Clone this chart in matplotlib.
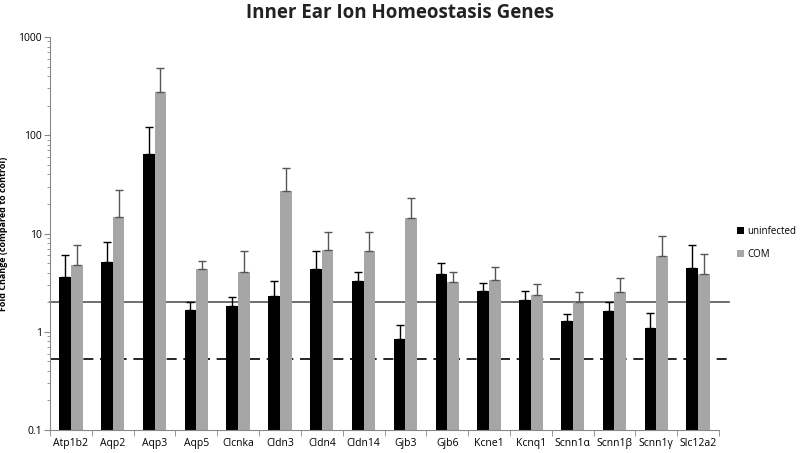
import matplotlib
matplotlib.use("Agg")
import matplotlib.pyplot as plt
import numpy as np
from matplotlib.ticker import LogLocator, NullFormatter, FixedLocator

plt.rcParams['font.family'] = ['Open Sans', 'DejaVu Sans']

genes = ["Atp1b2", "Aqp2", "Aqp3", "Aqp5", "Clcnka", "Cldn3", "Cldn4", "Cldn14", "Gjb3",
         "Gjb6", "Kcne1", "Kcnq1", "Scnn1α", "Scnn1β", "Scnn1γ", "Slc12a2"]
uninfected = [3.6, 5.1, 65, 1.66, 1.83, 2.29, 4.32, 3.26, 0.84, 3.88, 2.58, 2.12, 1.29, 1.64, 1.08, 4.42]
uninfected_err_top = [6.0, 8.1, 120, 2.02, 2.24, 3.3, 6.7, 4.06, 1.18, 4.98, 3.16, 2.58, 1.51, 2.02, 1.57, 7.55]
com = [4.8, 14.7, 277, 4.32, 4.06, 27, 6.87, 6.7, 14.3, 3.21, 3.34, 2.39, 2.01, 2.54, 5.87, 3.88]
com_err_top = [7.6, 27.5, 483, 5.2, 6.7, 46, 10.3, 10.3, 22.8, 4.09, 4.53, 3.04, 2.54, 3.56, 9.4, 6.15]
upper_threshold = 2.0
lower_threshold = 0.53

fig = plt.figure(figsize=(8, 4.53), dpi=100)
ax = fig.add_axes([50/800, (453-430)/453, 669/800, (430-37)/453])

n = len(genes)
x = np.arange(n)
w = 0.28
u = np.array(uninfected); c = np.array(com)
ue = np.array(uninfected_err_top) - u
ce = np.array(com_err_top) - c

ax.bar(x - w/2, u, w, color='black', label='uninfected', zorder=2)
ax.bar(x + w/2, c, w, color='#a6a6a6', label='COM', zorder=2)
ax.errorbar(x - w/2, u, yerr=[np.zeros(n), ue], fmt='none', ecolor='black', elinewidth=1, capsize=3, capthick=1, zorder=3)
ax.errorbar(x + w/2, c, yerr=[np.zeros(n), ce], fmt='none', ecolor='#555555', elinewidth=1, capsize=3, capthick=1, zorder=3)

ax.axhline(upper_threshold, xmin=0, xmax=1.015, color='#555555', lw=1.2, clip_on=False, zorder=1)
ax.axhline(lower_threshold, xmin=0, xmax=1.015, color='black', lw=1.2, ls=(0, (6, 4)), clip_on=False, zorder=1)

ax.set_yscale('log')
ax.set_ylim(0.1, 1000)
ax.set_xlim(-0.5, n - 0.5)
ax.set_yticks([0.1, 1, 10, 100, 1000])
ax.set_yticklabels(['0.1', '1', '10', '100', '1000'], fontsize=7.5)
ax.yaxis.set_minor_locator(LogLocator(base=10, subs=np.arange(2, 10)))
ax.yaxis.set_minor_formatter(NullFormatter())
ax.tick_params(axis='y', which='major', length=4, color='#888888', pad=2)
ax.tick_params(axis='y', which='minor', length=2.5, color='#888888')

ax.set_xticks(x)
ax.set_xticklabels(genes, fontsize=7.5)
ax.tick_params(axis='x', which='major', length=0, pad=6)
ax.xaxis.set_minor_locator(FixedLocator(np.arange(-0.5, n, 1.0)))
ax.tick_params(axis='x', which='minor', length=4, color='#888888')

for s in ['top', 'right']:
    ax.spines[s].set_visible(False)
for s in ['left', 'bottom']:
    ax.spines[s].set_color('#888888')

ax.set_ylabel('Fold Change (compared to control)', fontsize=6.5, fontweight='bold')
ax.yaxis.set_label_coords(-42/669, 0.5)
fig.text(0.5, 1 - 13/453, 'Inner Ear Ion Homeostasis Genes', ha='center', va='center', fontsize=13.5, fontweight='bold', color='#222222')

ax.legend(loc='upper left', bbox_to_anchor=(733/669 - 50/669 + 0.0, (430-222)/393), frameon=False,
          fontsize=7, handlelength=0.7, handleheight=0.7, labelspacing=1.2, handletextpad=0.4, borderaxespad=0)

fig.savefig('out.png', dpi=100)
